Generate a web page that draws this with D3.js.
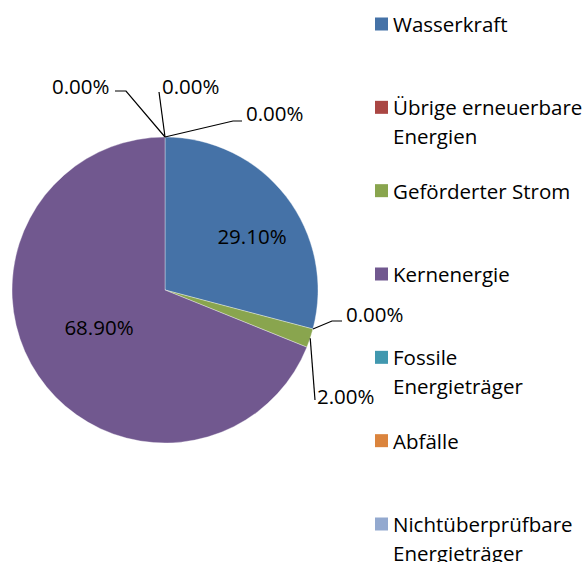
<!DOCTYPE html>
<html lang="de">
<head>
<meta charset="UTF-8">
<title>Strommix</title>
<script src="https://d3js.org/d3.v7.min.js"></script>
<style>
    body { margin: 0; background: #fff; }
    svg { display: block; font-family: "Open Sans", "Noto Sans", sans-serif; }
</style>
</head>
<body>
<div id="chart"></div>
<script>
    const categories = ["Wasserkraft", "Übrige erneuerbare Energien", "Geförderter Strom",
        "Kernenergie", "Fossile Energieträger", "Abfälle", "Nichtüberprüfbare Energieträger"];
    const values = [29.1, 0, 2.0, 68.9, 0, 0, 0];
    const colors = ["#4572A7", "#AA4643", "#89A54E", "#71588F", "#4198AF", "#DB843D", "#93A9CF"];
    // legend lines (wrapped like in the original)
    const legendLines = [["Wasserkraft"], ["Übrige erneuerbare", "Energien"], ["Geförderter Strom"],
        ["Kernenergie"], ["Fossile", "Energieträger"], ["Abfälle"], ["Nichtüberprüfbare", "Energieträger"]];

    const width = 585, height = 562;
    const cx = 165, cy = 290, radius = 153;
    const fontSize = 20.5;

    // where the labels sit, relative to the page (elbow, line end, text left/middle)
    const labelPos = [
        { inside: [252, 236] },
        { elbow: [332, 321], end: [342, 321], text: [346, 314] },
        { elbow: [315, 400], end: [315, 400], text: [317, 396] },
        { inside: [99, 327] },
        { elbow: [126, 91], end: [115, 91], text: [52, 86] },
        { elbow: [159, 92], end: [159, 92], text: [162, 86] },
        { elbow: [233, 121], end: [242, 121], text: [246, 113] }
    ];

    const svg = d3.select("#chart").append("svg")
        .attr("width", width)
        .attr("height", height);

    const data = categories.map((c, i) => ({ name: c, value: values[i], i }));

    const pie = d3.pie().sort(null).value(d => d.value);
    const arcs = pie(data);
    const arc = d3.arc().innerRadius(0).outerRadius(radius);

    const g = svg.append("g").attr("transform", `translate(${cx},${cy})`);

    g.selectAll("path")
        .data(arcs.filter(d => d.data.value > 0))
        .enter()
        .append("path")
        .attr("d", arc)
        .attr("fill", d => colors[d.data.i])
        .attr("stroke", "#fff")
        .attr("stroke-opacity", 0.5)
        .attr("stroke-width", 0.7);

    const fmt = v => d3.format(".2f")(v) + "%";

    // labels
    arcs.forEach(d => {
        const lp = labelPos[d.data.i];
        if (lp.inside) {
            svg.append("text")
                .attr("x", lp.inside[0])
                .attr("y", lp.inside[1])
                .attr("text-anchor", "middle")
                .attr("dominant-baseline", "central")
                .attr("font-size", fontSize)
                .attr("fill", "#000")
                .text(fmt(d.data.value));
            return;
        }
        const a = (d.startAngle + d.endAngle) / 2;
        const p0 = [cx + radius * Math.sin(a), cy - radius * Math.cos(a)];
        svg.append("polyline")
            .attr("points", [p0, lp.elbow, lp.end].map(p => p.join(",")).join(" "))
            .attr("fill", "none")
            .attr("stroke", "#000")
            .attr("stroke-width", 1.2);
        svg.append("text")
            .attr("x", lp.text[0])
            .attr("y", lp.text[1])
            .attr("dominant-baseline", "central")
            .attr("font-size", fontSize)
            .attr("fill", "#000")
            .text(fmt(d.data.value));
    });

    // legend
    const legendY = d3.scalePoint().domain(categories).range([24, 524]);
    const lg = svg.append("g");
    categories.forEach((c, i) => {
        const y = legendY(c);
        lg.append("rect")
            .attr("x", 375)
            .attr("y", y - 6.5)
            .attr("width", 13)
            .attr("height", 13)
            .attr("fill", colors[i]);
        legendLines[i].forEach((line, j) => {
            lg.append("text")
                .attr("x", 393)
                .attr("y", y + j * 29)
                .attr("dominant-baseline", "central")
                .attr("font-size", fontSize)
                .attr("fill", "#000")
                .text(line);
        });
    });
</script>
</body>
</html>
